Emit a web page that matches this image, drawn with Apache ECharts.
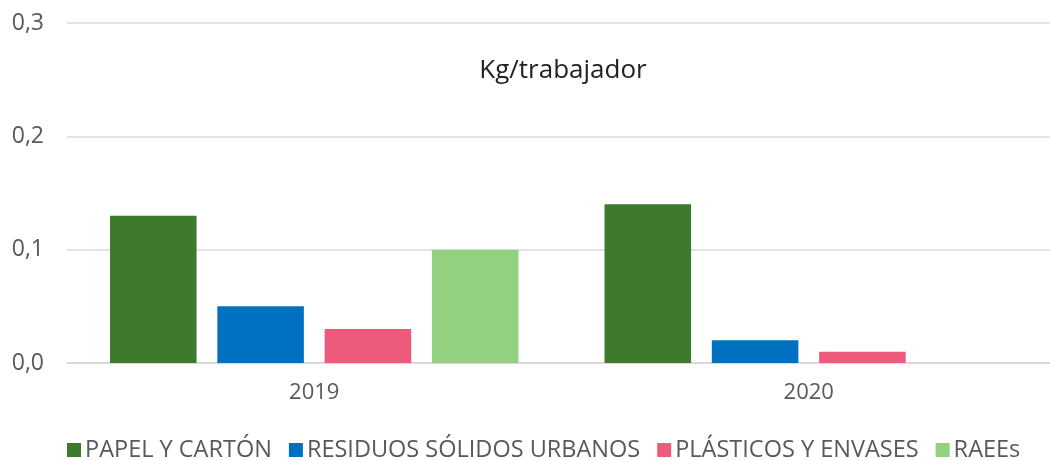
<!DOCTYPE html>
<html>
<head>
<meta charset="utf-8">
<script src="https://cdn.jsdelivr.net/npm/echarts@6/dist/echarts.min.js"></script>
<style>
  html, body { margin: 0; padding: 0; background: #fff; }
  #chart { width: 1050px; height: 460px; }
</style>
</head>
<body>
<div id="chart"></div>
<script>
// categories and series values
var years = ["2019", "2020"];
var seriesNames = ["PAPEL Y CARTÓN", "RESIDUOS SÓLIDOS URBANOS", "PLÁSTICOS Y ENVASES", "RAEEs"];
var papel = [0.13, 0.14];
var residuos = [0.05, 0.02];
var plasticos = [0.03, 0.01];
var raees = [0.10, 0];
var colors = ["#3E7A2E", "#0070C0", "#EC5B7B", "#92D17F"];

var chartDom = document.getElementById("chart");
var myChart = echarts.init(chartDom);
var font = "Open Sans";

function bar(name, data) {
  return {
    name: name,
    type: "bar",
    data: data,
    barGap: "24%",
    barCategoryGap: "17.4%",
    itemStyle: { borderWidth: 0 },
  };
}

var option = {
  animation: false,
  color: colors,
  title: {
    text: "Kg/trabajador",
    left: 558,
    textAlign: "center",
    top: 53,
    textStyle: {
      fontFamily: font,
      fontSize: 26,
      fontWeight: "normal",
      color: "#222222",
    },
  },
  legend: {
    data: seriesNames,
    left: 62,
    top: 433,
    icon: "rect",
    itemWidth: 14,
    itemHeight: 14,
    itemGap: 17,
    textStyle: {
      fontFamily: font,
      fontSize: 23.5,
      color: "#595959",
      padding: [0, 0, 0, -1],
    },
  },
  grid: {
    left: 67,
    top: 23,
    width: 989,
    height: 340,
    outerBoundsMode: "none",
  },
  xAxis: {
    type: "category",
    data: years,
    axisTick: { show: false },
    axisLine: { lineStyle: { color: "#d9d9d9", width: 2 } },
    axisLabel: {
      fontFamily: font,
      fontSize: 22,
      color: "#595959",
      margin: 19,
    },
  },
  yAxis: {
    type: "value",
    min: 0,
    max: 0.3,
    interval: 0.1,
    axisLine: { show: false },
    axisTick: { show: false },
    splitLine: { lineStyle: { color: "#d9d9d9", width: 1.5 } },
    axisLabel: {
      fontFamily: font,
      fontSize: 23,
      color: "#595959",
      margin: 23,
      formatter: function (v) {
        return v.toFixed(1).replace(".", ",");
      },
    },
  },
  series: [
    bar(seriesNames[0], papel),
    bar(seriesNames[1], residuos),
    bar(seriesNames[2], plasticos),
    bar(seriesNames[3], raees),
  ],
};

option && myChart.setOption(option);
</script>
</body>
</html>
